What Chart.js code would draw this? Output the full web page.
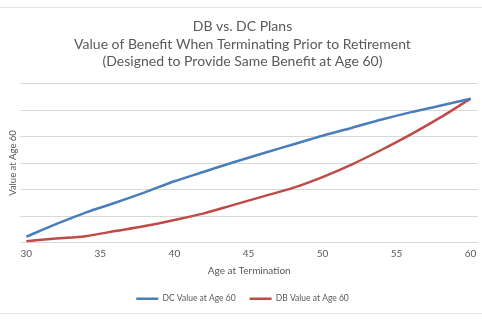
<!DOCTYPE html>
<html lang="en">
<head>
    <meta charset="UTF-8">
    <title>DB vs. DC Plans</title>
    <style>
        body {
            margin: 0;
            padding: 0;
            background: #ffffff;
        }
        .frame {
            position: absolute;
            left: 0;
            top: 7px;
            width: 482px;
            height: 305px;
            border-top: 1px solid #e4e4e4;
            border-bottom: 1px solid #e4e4e4;
        }
        .chart-box {
            position: absolute;
            left: 0;
            top: 0;
            width: 482px;
            height: 321px;
        }
    </style>
</head>
<body>
    <div class="frame"></div>
    <div class="chart-box">
        <canvas id="planChart" width="482" height="321"></canvas>
    </div>

    <script src="https://cdn.jsdelivr.net/npm/chart.js"></script>
    <script>
        // Age at termination (read every 2 years)
        const ages = [30, 32, 34, 36, 38, 40, 42, 44, 46, 48, 50, 52, 54, 56, 58, 60];
        // values (no scale shown, gridline = 1 unit)
        const dcValues = [0.22, 0.69, 1.13, 1.50, 1.89, 2.31, 2.67, 3.03,
                          3.37, 3.70, 4.03, 4.33, 4.64, 4.92, 5.17, 5.43];
        const dbValues = [0.05, 0.15, 0.24, 0.43, 0.62, 0.85, 1.10, 1.42,
                          1.74, 2.06, 2.47, 2.95, 3.50, 4.09, 4.73, 5.43];
        const xTickLabels = [30, 35, 40, 45, 50, 55, 60];
        const titleLines = ['DB vs. DC Plans',
                            'Value of Benefit When Terminating Prior to Retirement',
                            '(Designed to Provide Same Benefit at Age 60)'];

        const textColor = '#595959';
        const gridColor = '#d9d9d9';
        const fontFamily = 'Lato, "Open Sans", sans-serif';

        const ctx = document.getElementById('planChart').getContext('2d');

        const planChart = new Chart(ctx, {
            type: 'line',
            data: {
                datasets: [
                    {
                        label: 'DC Value at Age 60',
                        data: ages.map((a, i) => ({ x: a, y: dcValues[i] })),
                        borderColor: '#4a7ebb',
                        backgroundColor: '#4a7ebb',
                        borderWidth: 2.5,
                        pointRadius: 0,
                        pointStyle: 'line',
                        cubicInterpolationMode: 'monotone',
                        fill: false
                    },
                    {
                        label: 'DB Value at Age 60',
                        data: ages.map((a, i) => ({ x: a, y: dbValues[i] })),
                        borderColor: '#be4b48',
                        backgroundColor: '#be4b48',
                        borderWidth: 2.5,
                        pointRadius: 0,
                        pointStyle: 'line',
                        cubicInterpolationMode: 'monotone',
                        fill: false
                    }
                ]
            },
            options: {
                responsive: false,
                animation: false,
                layout: {
                    padding: { left: 7, right: 4, top: 18, bottom: 8 }
                },
                plugins: {
                    title: {
                        display: true,
                        text: titleLines,
                        color: textColor,
                        font: { family: fontFamily, size: 14, weight: 'normal', lineHeight: 1.25 },
                        padding: { top: 0, bottom: 13 }
                    },
                    legend: {
                        position: 'bottom',
                        labels: {
                            color: textColor,
                            font: { family: fontFamily, size: 8.5 },
                            usePointStyle: true,
                            pointStyleWidth: 22,
                            boxHeight: 2,
                            padding: 14
                        }
                    },
                    tooltip: { enabled: false }
                },
                scales: {
                    x: {
                        type: 'linear',
                        min: 29.6,
                        max: 60.5,
                        afterBuildTicks: axis => {
                            axis.ticks = xTickLabels.map(v => ({ value: v }));
                        },
                        grid: { display: false, drawTicks: false },
                        border: { display: false },
                        ticks: {
                            color: textColor,
                            font: { family: fontFamily, size: 10 },
                            maxRotation: 0,
                            padding: 5
                        },
                        title: {
                            display: true,
                            text: 'Age at Termination',
                            color: textColor,
                            font: { family: fontFamily, size: 10 },
                            padding: { top: 0, bottom: 4 }
                        }
                    },
                    y: {
                        min: 0,
                        max: 6,
                        grid: { color: gridColor, drawTicks: false },
                        border: { display: false },
                        ticks: { display: false, stepSize: 1 },
                        title: {
                            display: true,
                            text: 'Value at Age 60',
                            color: textColor,
                            font: { family: fontFamily, size: 9.5 },
                            padding: { top: 0, bottom: 2 }
                        }
                    }
                }
            }
        });
    </script>
</body>
</html>
